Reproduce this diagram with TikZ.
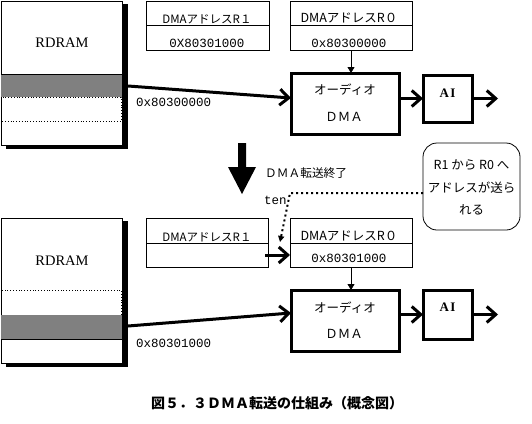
\documentclass[tikz,border=0pt]{standalone}
\usepackage{fontspec}
\setmainfont{Liberation Serif}
\newfontfamily\jp{Noto Sans CJK JP}
\newfontfamily\hexf{Liberation Mono}
\usetikzlibrary{arrows.meta}
\definecolor{ramgray}{HTML}{808080}
\begin{document}
\begin{tikzpicture}[x=1pt,y=-1pt,
  box/.style={draw, line width=0.8pt, inner sep=0pt, outer sep=0pt, anchor=north west},
  thickbox/.style={draw, line width=3pt, inner sep=0pt, outer sep=0pt, anchor=north west},
  bigarrow/.style={line width=3pt, -{Straight Barb[length=9pt,width=16pt,line width=3pt]}},
  smallarrow/.style={line width=0.8pt, -{Triangle[length=6pt,width=7pt]}},
  dotline/.style={line width=2pt, dash pattern=on 2pt off 3pt, -{Triangle[length=6pt,width=6pt]}},
  jpt/.style={font=\jp\fontsize{12.5pt}{15pt}\selectfont, inner sep=0pt},
  jps/.style={font=\jp\fontsize{11.5pt}{14pt}\selectfont, inner sep=0pt},
  jpb/.style={font=\jp\fontsize{12.5pt}{15pt}\selectfont, inner sep=0pt},
  hex/.style={font=\hexf\fontsize{12.5pt}{15pt}\selectfont, inner sep=0pt},
  ramtxt/.style={font=\fontsize{14.5pt}{17pt}\selectfont, inner sep=0pt},
  aitxt/.style={font=\bfseries\fontsize{13pt}{15pt}\selectfont, inner sep=0pt},
  captxt/.style={font=\jp\bfseries\fontsize{14pt}{17pt}\selectfont, inner sep=0pt}
]
\useasboundingbox (0,0) rectangle (532,423);

% ---------- top section ----------
\fill (6,4) rectangle (128,149);
\node[box, fill=white, minimum width=121pt, minimum height=144pt] (ram1) at (1,1) {};
\fill[ramgray] (1,74) rectangle (122,97);
\draw[line width=0.8pt] (1,74) -- (122,74);
\draw[line width=0.8pt, dotted] (1,97) rectangle (121,121);
\node[ramtxt] (ramlab1) at (62,43) {RDRAM};

\node[box, minimum width=123pt, minimum height=24pt] (r1a1) at (146,1) {};
\node[box, minimum width=123pt, minimum height=25pt] (r1b1) at (146,25) {};
\node[jps] (r1l1) at (207,19) {DMAアドレスR１};
\node[hex] (r1v1) at (207,43) {0X80301000};

\node[box, minimum width=122pt, minimum height=24pt] (r0a1) at (290,1) {};
\node[box, minimum width=122pt, minimum height=25pt] (r0b1) at (290,25) {};
\node[jpt] (r0l1) at (349,18) {DMAアドレスR０};
\node[hex] (r0v1) at (349,43) {0x80300000};

\node[thickbox, minimum width=108pt, minimum height=61pt] (dma1) at (291,73) {};
\node[jpt] (dmat1) at (345,90) {オーディオ};
\node[jpt] (dmab1) at (344,117) {ＤＭＡ};

\node[thickbox, minimum width=49pt, minimum height=47pt] (ai1) at (423,75) {};
\node[aitxt] (ait1) at (447.5,93) {A\kern1.5pt I};

\coordinate (src1) at (128,86);
\draw[bigarrow] (src1) -- ([yshift=5.5pt]dma1.west);
\node[hex, anchor=west] (addr1) at (136,102) {0x80300000};
\draw[smallarrow] (r0b1.south) -- (r0b1.south |- dma1.north);
\draw[bigarrow] (dma1.east |- ai1.west) -- (ai1.west);
\coordinate (out1) at (498,98.5);
\draw[bigarrow] (ai1.east) -- (out1);

% ---------- middle ----------
\fill (238,143) -- (246,143) -- (246,167) -- (256,167) -- (242,194) -- (228,167) -- (238,167) -- cycle;
\node[font=\jp\fontsize{11.7pt}{14pt}\selectfont, inner sep=0pt, anchor=west] (done) at (265,173) {ＤＭＡ転送終了};
\node[hex, anchor=west] (ten) at (264,200) {ten};

\node[draw, line width=0.8pt, rounded corners=14pt, inner sep=0pt, outer sep=0pt, anchor=north west,
      minimum width=97pt, minimum height=87pt] (bub) at (423,143) {};
\node[jpb] (bt1) at (471.5,165) {R1 から R0 へ};
\node[jpb] (bt2) at (471.5,188) {アドレスが送ら};
\node[jpb] (bt3) at (471.5,210) {れる};

\coordinate (bend) at (290,193);
\coordinate (tip) at (280,242);
\draw[dotline] (bub.west |- bend) -- (bend) -- (tip);

% ---------- bottom section ----------
\fill (6,221) rectangle (128,367);
\node[box, fill=white, minimum width=121pt, minimum height=145pt] (ram2) at (1,218) {};
\draw[line width=0.8pt, dotted] (1,290) rectangle (121,315);
\fill[ramgray] (1,315) rectangle (122,339);
\draw[line width=0.8pt] (1,339) -- (122,339);
\node[ramtxt] (ramlab2) at (62,261) {RDRAM};

\node[box, minimum width=122pt, minimum height=25pt] (r1a2) at (146,218) {};
\node[box, minimum width=122pt, minimum height=24pt] (r1b2) at (146,243) {};
\node[jps] (r1l2) at (207,237) {DMAアドレスR１};

\node[box, minimum width=122pt, minimum height=25pt] (r0a2) at (290,218) {};
\node[box, minimum width=122pt, minimum height=24pt] (r0b2) at (290,243) {};
\node[jpt] (r0l2) at (349,236) {DMAアドレスR０};
\node[hex] (r0v2) at (349,258) {0x80301000};

\draw[bigarrow] ([xshift=-3pt]r1b2.east) -- (r0b2.west);

\node[thickbox, minimum width=108pt, minimum height=61pt] (dma2) at (291,290) {};
\node[jpt] (dmat2) at (345,308) {オーディオ};
\node[jpt] (dmab2) at (344,334) {ＤＭＡ};

\node[thickbox, minimum width=49pt, minimum height=49pt] (ai2) at (423,290) {};
\node[aitxt] (ait2) at (447.5,307) {A\kern1.5pt I};

\coordinate (src2) at (128,326);
\draw[bigarrow] (src2) -- ([yshift=7.5pt]dma2.west);
\node[hex, anchor=west] (addr2) at (136,343) {0x80301000};
\draw[smallarrow] (r0b2.south) -- (r0b2.south |- dma2.north);
\draw[bigarrow] (dma2.east |- ai2.west) -- (ai2.west);
\coordinate (out2) at (498,314.5);
\draw[bigarrow] (ai2.east) -- (out2);

% ---------- caption ----------
\node[captxt] (cap) at (277,403) {図５．３ＤＭＡ転送の仕組み（概念図）};
\end{tikzpicture}
\end{document}
